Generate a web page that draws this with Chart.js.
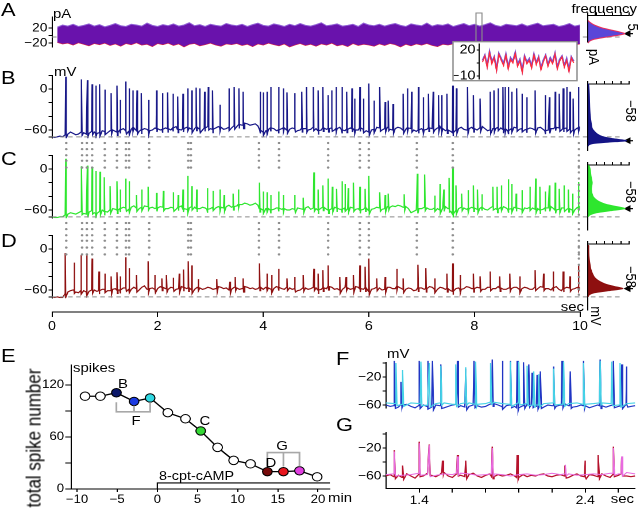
<!DOCTYPE html>
<html>
<head>
<meta charset="utf-8">
<script src="https://cdn.jsdelivr.net/npm/chart.js@4.4.1/dist/chart.umd.min.js"></script>
<style>
  html, body { margin: 0; padding: 0; background: #fff; overflow: hidden; }
  #fig { position: absolute; left: 0; top: 0; width: 557px; height: 508px;
         transform: scaleX(1.149); transform-origin: 0 0;
         font-family: "Liberation Sans", Arial, sans-serif; }
  #fig canvas, #fig svg { position: absolute; left: 0; top: 0; }
  .lbl { position: absolute; white-space: nowrap; line-height: 1; color: #000; }
</style>
</head>
<body>
<div id="fig"></div>
<script>
/* Spike traces A-D, histograms, spike count over time (E) and overlays (F, G) */

const W = 557, H = 508, S = 640 / W;   // figure is drawn narrow and stretched
const fig = document.getElementById('fig');

// ---------- data ----------
const tStep = 0.1;                // current envelope sample spacing, s
const vStep = 0.05;               // voltage baseline sample spacing, s
const aT0 = 0.1;
const aUpper = [22, 28, 25, 30, 24, 27, 31, 25, 29, 23, 27, 32, 26, 24, 30, 28, 25, 33, 27, 24,
  29, 26, 31, 25, 28, 34, 26, 29, 24, 30, 27, 25, 32, 28, 26, 30, 24, 29, 33, 27,
  25, 31, 28, 24, 30, 26, 32, 27, 25, 29, 34, 26, 28, 31, 25, 27, 30, 24, 33, 28,
  26, 30, 25, 29, 32, 27, 24, 31, 28, 26, 33, 25, 29, 27, 31, 24, 28, 32, 26, 30,
  25, 29, 34, 27, 24, 30, 28, 26, 31, 25, 29, 33, 26, 28, 30, 24, 27, 32, 25, 28];
const aLower = [-18, -22, -20, -25, -19, -23, -27, -21, -24, -20, -26, -22, -28, -21, -24, -19, -25, -23, -29, -21,
  -24, -20, -26, -22, -30, -23, -21, -27, -24, -20, -25, -28, -22, -24, -21, -26, -23, -29, -22, -25,
  -20, -24, -27, -22, -30, -25, -21, -26, -23, -28, -22, -25, -20, -27, -24, -29, -21, -26, -23, -25,
  -28, -22, -26, -21, -24, -30, -23, -27, -22, -25, -21, -26, -29, -23, -25, -22, -28, -24, -20, -26,
  -23, -27, -22, -25, -30, -24, -21, -26, -28, -23, -25, -22, -27, -24, -21, -26, -29, -23, -25, -22];
const insetPurple = [8, 14, 2, 18, 6, 12, -2, 16, 10, 4, 15, 0, 11, 7, 17, 3, 9, -4, 13, 6,
  10, 1, 15, 5, 12, -1, 8, 14, 3, 11, 6, 16, 0, 9, 13, 2, 10, -3, 12, 7];
const insetRed = [6, 13, 0, 17, 4, 11, -4, 15, 8, 2, 14, -2, 9, 5, 16, 1, 7, -6, 12, 4,
  8, -1, 14, 3, 11, -3, 6, 13, 1, 9, 4, 15, -2, 7, 12, 0, 8, -5, 11, 5];

const bBase = [-70, -71, -70, -69, -70, -67, -66, -63, -65, -67, -66, -63, -64, -66, -65, -62, -63, -65, -64, -61,
  -62, -64, -61, -60, -62, -63, -60, -58, -61, -62, -59, -57, -61, -62, -60, -58, -59, -61, -60, -57,
  -58, -60, -59, -57, -58, -60, -57, -55, -59, -60, -58, -56, -57, -59, -58, -56, -59, -60, -57, -55,
  -58, -59, -57, -55, -56, -59, -58, -56, -57, -54, -55, -52, -53, -50, -51, -53, -52, -51, -54, -60,
  -63, -61, -59, -57, -58, -61, -60, -58, -57, -60, -59, -57, -58, -61, -60, -58, -58, -60, -59, -56,
  -58, -61, -60, -57, -59, -58, -57, -60, -58, -56, -60, -61, -59, -57, -58, -60, -60, -57, -59, -61,
  -63, -60, -59, -56, -57, -60, -58, -56, -59, -60, -58, -56, -57, -60, -59, -57, -58, -60, -62, -60,
  -58, -60, -59, -57, -58, -60, -57, -55, -58, -61, -60, -62, -64, -60, -58, -56, -59, -60, -58, -56,
  -58, -60, -57, -55, -58, -61, -60, -58, -58, -56, -57, -59, -59, -61, -58, -56, -57, -59, -58, -60,
  -59, -57, -58, -60, -57, -56, -59, -61, -60, -58, -58, -56, -57, -60, -58, -57, -59, -61, -60, -57, -55];
const cBase = [-70, -71, -71, -70, -70, -67, -66, -64, -65, -66, -64, -62, -65, -66, -63, -61, -64, -65, -62, -60,
  -62, -63, -60, -58, -59, -60, -58, -56, -57, -59, -56, -54, -57, -58, -56, -54, -55, -57, -56, -58,
  -57, -55, -56, -58, -58, -56, -57, -59, -56, -54, -58, -59, -57, -55, -56, -58, -58, -56, -57, -59,
  -58, -56, -57, -55, -56, -57, -55, -53, -56, -55, -54, -52, -52, -50, -51, -53, -52, -50, -53, -58,
  -60, -58, -58, -60, -59, -57, -57, -59, -58, -60, -60, -58, -59, -57, -58, -59, -57, -55, -59, -57,
  -58, -60, -57, -56, -59, -60, -58, -56, -57, -59, -59, -57, -58, -56, -57, -59, -58, -60, -59, -57,
  -61, -59, -58, -56, -57, -59, -58, -55, -56, -54, -55, -53, -54, -56, -55, -58, -64, -62, -60, -58,
  -58, -56, -57, -59, -59, -57, -58, -60, -57, -55, -58, -62, -66, -61, -58, -56, -57, -59, -58, -56,
  -57, -59, -58, -56, -59, -60, -57, -55, -58, -59, -56, -55, -57, -59, -58, -56, -57, -58, -59, -57,
  -58, -56, -57, -59, -58, -60, -59, -57, -57, -55, -58, -60, -59, -57, -57, -59, -58, -60, -60, -56, -54];
const dBase = [-70, -71, -70, -71, -71, -66, -63, -61, -60, -63, -64, -61, -61, -63, -62, -60, -60, -62, -61, -59,
  -59, -61, -61, -59, -58, -60, -60, -57, -57, -59, -59, -56, -58, -60, -56, -54, -59, -58, -57, -59,
  -58, -55, -56, -58, -59, -56, -57, -59, -58, -55, -56, -58, -57, -60, -59, -56, -57, -59, -58, -56,
  -57, -59, -58, -55, -56, -58, -57, -60, -59, -56, -57, -59, -58, -55, -56, -58, -57, -59, -58, -56,
  -59, -56, -57, -59, -58, -55, -56, -58, -59, -56, -57, -59, -58, -61, -60, -57, -57, -59, -58, -56,
  -57, -60, -59, -57, -58, -55, -56, -59, -58, -60, -59, -56, -57, -59, -58, -55, -56, -58, -59, -57,
  -62, -59, -58, -56, -57, -60, -59, -56, -56, -58, -58, -55, -57, -59, -59, -57, -58, -61, -60, -57,
  -57, -59, -58, -55, -56, -59, -59, -56, -57, -59, -58, -61, -62, -58, -57, -59, -58, -55, -56, -58,
  -58, -56, -57, -59, -59, -56, -56, -58, -58, -55, -57, -59, -59, -57, -58, -56, -56, -59, -58, -56,
  -57, -59, -59, -56, -58, -55, -56, -58, -58, -60, -57, -55, -59, -61, -58, -56, -57, -59, -58, -56, -56];

const bSpikeT = [0.26, 0.56, 0.67, 0.76, 0.83, 0.90, 1.00, 1.12, 1.23, 1.29, 1.40, 1.46, 1.53, 1.61, 1.69, 1.83, 1.98, 2.09, 2.19, 2.29,
  2.38, 2.48, 2.57, 2.65, 2.73, 2.80, 2.89, 2.96, 3.04, 3.18, 3.35, 3.45, 3.54, 3.62, 3.94, 4.00, 4.07, 4.14, 4.29, 4.38,
  4.45, 4.60, 4.73, 4.82, 4.95, 5.04, 5.13, 5.23, 5.30, 5.38, 5.49, 5.58, 5.68, 5.73, 5.83, 5.90, 6.00, 6.10, 6.21, 6.31,
  6.37, 6.46, 6.65, 6.73, 6.81, 6.94, 7.03, 7.13, 7.22, 7.32, 7.38, 7.48, 7.59, 7.66, 7.87, 7.98, 8.11, 8.30, 8.37, 8.45,
  8.54, 8.58, 8.64, 8.71, 8.80, 8.90, 8.99, 9.15, 9.34, 9.42, 9.53, 9.61, 9.68, 9.75, 9.81, 9.87, 9.97];
const bSpikeV = [18, 14, 13, 7, 5, 7, -1, -6, 5, -16, 11, 1, -2, -2, -6, -16, -2, -6, -5, -7,
  -11, -7, 1, -2, 2, 1, -4, 3, -2, -23, 1, 3, 1, -4, -4, -5, -4, 3, 3, 1,
  -5, -6, -4, 3, 3, -2, 3, -9, -2, 3, 3, -4, 1, -14, 3, -14, 8, -17, 3, -19,
  -17, -22, -7, 1, -4, 3, -12, -7, -4, -9, -9, -7, 5, 1, 3, -9, -14, -4, -2, 1,
  3, 3, 3, -4, 1, -7, -12, -2, -9, -12, -4, -7, 1, 3, -4, -14, 3];
const cSpikeT = [0.26, 0.56, 0.67, 0.76, 0.83, 0.91, 0.99, 1.10, 1.23, 1.29, 1.40, 1.46, 1.60, 1.70, 1.82, 1.98, 2.11, 2.30, 2.39, 2.48,
  2.57, 2.65, 2.74, 2.94, 3.05, 3.18, 3.26, 3.43, 3.53, 3.93, 4.00, 4.07, 4.14, 4.29, 4.38, 4.60, 4.76, 4.96, 5.04, 5.13,
  5.23, 5.31, 5.39, 5.49, 5.55, 5.61, 5.71, 5.83, 5.93, 6.00, 6.21, 6.31, 6.37, 6.67, 6.92, 7.06, 7.25, 7.35, 7.42, 7.52,
  7.59, 7.65, 7.76, 7.88, 7.98, 8.06, 8.14, 8.35, 8.43, 8.51, 8.64, 8.71, 8.79, 8.90, 9.05, 9.16, 9.24, 9.34, 9.42, 9.53,
  9.61, 9.70, 9.78, 9.86, 9.97];
const cSpikeV = [15, 4, 5, 3, -3, -4, -12, -25, -18, -30, -14, -18, -38, -30, -26, -35, -32, -34, -38, -30,
  -10, -25, -30, -28, -32, -30, -38, -36, -30, -20, -33, -34, -38, -33, -38, -38, -42, -5, -30, -24,
  -14, -26, -29, -18, -22, -28, -20, -26, -29, -10, -34, -38, -36, -37, -7, -8, -39, -22, -30, -13,
  2, -24, -36, -31, -24, -30, -37, -26, -26, -24, -15, -22, -36, -31, -26, -14, -26, -33, -24, -20,
  -29, -24, -30, -36, -19];
const dSpikeT = [0.25, 0.42, 0.55, 0.66, 0.76, 0.89, 1.00, 1.12, 1.23, 1.29, 1.40, 1.46, 1.60, 1.82, 1.95, 2.08, 2.17, 2.30, 2.41, 2.49,
  2.58, 2.65, 2.77, 3.12, 3.37, 3.47, 3.62, 3.93, 4.07, 4.16, 4.29, 4.45, 4.60, 4.76, 4.96, 5.04, 5.13, 5.23, 5.45, 5.57,
  5.71, 5.83, 5.93, 6.00, 6.15, 6.31, 6.53, 6.65, 6.93, 7.08, 7.25, 7.48, 7.59, 7.73, 7.98, 8.11, 8.30, 8.48, 8.67, 8.86,
  9.15, 9.31, 9.49, 9.68, 9.81, 9.97];
const dSpikeV = [-6, -20, -9, -9, -14, -33, -36, -40, -34, -40, -12, -28, -38, -18, -38, -43, -38, -42, -36, -30,
  -18, -24, -44, -44, -48, -41, -43, -21, -36, -38, -29, -43, -41, -38, -29, -36, -31, -24, -41, -41,
  -38, -24, -26, -14, -43, -41, -29, -43, -23, -28, -43, -36, -21, -38, -36, -40, -33, -40, -36, -40,
  -31, -36, -33, -33, -40, -24];

// spikes shared by B, C and D (grey dotted columns); rows in mV of the panel above the gap
const syncT = [0.27, 0.57, 0.66, 0.76, 1.00, 1.23, 1.40, 1.46, 1.84, 2.58, 2.63, 3.92, 4.30, 5.23, 5.83, 6.00, 6.91, 7.59, 9.98];
const dotRowsBC = [-79, -88, -97, -105, -115];
const dotRowsCD = [-79, -88, -97, -105, -115, -125];
const lastColRows = [4, -5, -14, -23, -32, -41, -50, -59, -67];

const timeTicks = [0, 2, 4, 6, 8, 10];
const timeLabels = ['0', '2', '4', '6', '8', '10'];
const aTicks = [20, 0, -20];
const aLabels = ['20', '', '\u221220'];
const panelTicks = [20, 0, -20, -40, -60, -70];
const panelLabels = ['', '0', '', '', '\u221260', ''];
const insetTicks = [20, 5, -10];
const insetLabels = ['20', '', '\u221210'];

// histograms (membrane value vs relative frequency)
const histTicks = [0, 0.2, 0.4, 0.6, 0.8, 1];
const hAv = [40, 35, 30, 25, 20, 15, 10, 5, 0, -5, -10, -15, -20];
const hAf = [0, 0.05, 0.12, 0.22, 0.35, 0.55, 0.75, 0.9, 0.7, 0.4, 0.15, 0.04, 0];
const hBv = [25, 20, 10, 0, -10, -20, -30, -40, -44, -48, -52, -55, -58, -60, -62, -64, -66];
const hBf = [0.01, 0.02, 0.03, 0.035, 0.04, 0.05, 0.07, 0.1, 0.15, 0.22, 0.35, 0.6, 0.94, 0.5, 0.12, 0.02, 0];
const hCv = [5, 0, -10, -20, -30, -40, -44, -48, -52, -55, -58, -61, -64, -67, -70];
const hCf = [0.02, 0.05, 0.07, 0.1, 0.08, 0.12, 0.18, 0.28, 0.45, 0.7, 0.9, 0.55, 0.2, 0.05, 0];
const hDv = [5, 0, -10, -20, -30, -40, -44, -48, -52, -55, -58, -61, -64, -67, -70];
const hDf = [0.015, 0.015, 0.02, 0.04, 0.07, 0.14, 0.2, 0.3, 0.45, 0.65, 0.85, 0.5, 0.15, 0.03, 0];
const histPeaks = [5, -58, -58, -58];

// E: total spike number per 2-min block
const eTime = [-9, -7.1, -5.1, -2.9, -0.9, 1.3, 3.5, 5.4, 7.5, 9.5, 11.6, 13.7, 15.7, 17.7, 19.9];
const eSpikes = [107, 107, 111, 101, 105, 88, 81, 67, 48, 33, 29, 20, 20, 21, 14];
const eColors = ['#fff', '#fff', '#0b186a', '#1b3ae0', '#2fd8e2', '#fff', '#fff', '#35d835', '#fff', '#fff', '#fff',
  '#760b0b', '#e8161e', '#e03ee0', '#fff'];
const eXTicks = [-10, -5, 0, 5, 10, 15, 20];
const eXLabels = ['\u221210', '\u22125', '0', '5', '10', '15', '20'];
const eYTicks = [0, 30, 60, 90, 120];
const eYLabels = ['0', '', '60', '', '120'];
const drugT = [0, 0, 21.5];
const drugY = [0, 7, 7];
const fIdx = [2, 3, 4], gIdx = [11, 12, 13];

// F, G: 1.2-2.7 s overlays
const fgT0 = 1.2, fgStep = 0.025, fgStep2 = 0.05;
const fBlueBase = [-60, -62, -61, -63, -60, -59, -62, -64, -61, -60, -62, -63, -60, -61, -64, -62, -60, -59, -61, -63,
  -62, -60, -61, -63, -62, -59, -58, -60, -62, -61, -60, -62, -64, -61, -59, -60, -62, -61, -63, -60,
  -61, -62, -60, -58, -61, -63, -62, -60, -61, -64, -62, -60, -61, -63, -61, -60, -62, -61, -59, -62, -61];
const fBlueT = [1.25, 1.29, 1.40, 1.45, 1.48, 1.53, 1.63, 1.68, 1.73, 1.84, 1.90, 1.95, 1.99, 2.03, 2.06, 2.08, 2.11, 2.13, 2.21, 2.26,
  2.31, 2.39, 2.49, 2.57, 2.62, 2.65];
const fBlueV = [3, -27, 3, 3, 3, -2, 3, -8, 3, 5, 3, 3, 3, 1, -2, -14, -17, -12, -5, 3, -12, 3, 5, 3, -2, -5];
const fCyanBase = [-57, -58, -59, -57, -58, -60, -58, -57, -59, -58, -57, -59, -58, -56, -58, -59, -57, -58, -60, -58,
  -57, -59, -58, -57, -59, -58, -57, -58, -60, -58, -57];
const fCyanT = [1.26, 1.30, 1.41, 1.46, 1.53, 1.62, 1.68, 1.74, 1.83, 1.95, 2.00, 2.05, 2.09, 2.12, 2.21, 2.27, 2.39, 2.49, 2.56, 2.61];
const fCyanV = [0, -10, 2, 0, -4, -2, -6, 2, 0, 2, 2, -4, -12, -16, -8, 2, 0, 3, 2, 0];
const gRedBase = [-60, -58, -61, -59, -62, -57, -60, -63, -58, -60, -56, -59, -61, -58, -55, -60, -62, -57, -59, -61,
  -58, -56, -60, -62, -59, -57, -61, -58, -60, -59, -57, -60, -62, -58, -61, -59, -60, -58, -57, -60,
  -61, -59, -58, -60, -62, -59, -57, -60, -61, -58, -59, -61, -57, -60, -62, -58, -59, -57, -60, -61, -60];
const gRedT = [1.25, 1.30, 1.40, 1.46, 1.54, 1.63, 1.68, 1.84, 1.99, 2.28, 2.40, 2.48, 2.57, 2.62];
const gRedV = [-23, -45, -11, -15, -38, -30, -38, -18, -30, -45, -38, -30, -18, -34];
const gMagBase = [-58, -57, -59, -58, -56, -58, -59, -57, -58, -56, -57, -59, -58, -57, -58, -60, -58, -57, -59, -58,
  -56, -58, -57, -59, -58, -57, -58, -56, -57, -55, -57];
const gMagT = [1.25, 1.40, 1.46, 1.63, 1.84, 2.28, 2.57, 2.62];
const gMagV = [-25, -13, -16, -32, -20, -44, -20, -32];
const fgYTicks = [0, -20, -40, -60];
const fgYLabels = ['', '\u221220', '', '\u221260'];
const gXTicks = [1.4, 1.6, 1.8, 2.0, 2.2, 2.4, 2.6];
const gXLabels = ['1.4', '', '', '', '', '2.4', ''];

// ---------- helpers ----------
Chart.defaults.font.family = '"Liberation Sans", Arial, sans-serif';
Chart.defaults.color = '#000';

const K = 41 / 60;                 // px per mV in panels B-D
const panelGap = 80 / K;           // mV between the zero lines of B, C, D

// chart area given in reference pixels (x is divided by the stretch)
const pad = (l, t, r, b, yw = 0, xh = 0, xt = 0) =>
  ({ left: l / S - yw, top: t - xt, right: W - r / S, bottom: H - b - xh });

function chart(padding, scales, datasets) {
  const c = document.createElement('canvas');
  c.width = W; c.height = H;
  fig.appendChild(c);
  return new Chart(c, {
    type: 'line',
    data: { datasets },
    options: {
      responsive: false, animation: false, devicePixelRatio: 2, events: [],
      layout: { padding },
      plugins: { legend: { display: false }, tooltip: { enabled: false } },
      scales
    }
  });
}

function yScale(min, max, ticks, labels, width, size, tl) {
  return {
    type: 'linear', min, max, position: 'left',
    afterBuildTicks: s => { s.ticks = ticks.map(v => ({ value: v })); },
    afterFit: s => { s.width = width; },
    border: { color: '#000', width: 1 },
    grid: { drawOnChartArea: false, color: '#000', tickColor: '#000', tickLength: tl || 3 },
    ticks: { autoSkip: false, padding: 1, color: '#000', font: { size: size || 12 }, callback: (v, i) => labels[i] }
  };
}
function xScale(min, max, ticks, labels, height, size, tl, tp) {
  return {
    type: 'linear', min, max, position: 'bottom',
    afterBuildTicks: s => { s.ticks = ticks.map(v => ({ value: v })); },
    afterFit: s => { s.height = height; },
    border: { color: '#000', width: 1 },
    grid: { drawOnChartArea: false, color: '#000', tickColor: '#000', tickLength: tl },
    ticks: { autoSkip: false, maxRotation: 0, padding: tp, color: '#000', font: { size }, callback: (v, i) => labels[i] }
  };
}
const xHidden = (min, max) => ({ type: 'linear', min, max, display: false });
const yHidden = (min, max) => ({ type: 'linear', min, max, display: false });

const line = (data, color, width, extra) =>
  Object.assign({ data, borderColor: color, borderWidth: width, pointRadius: 0, fill: false, tension: 0 }, extra || {});
const series = (t0, step, vals) => vals.map((v, i) => ({ x: t0 + i * step, y: v }));

// baseline samples plus one narrow up/down stroke per spike
function trace(t0, step, base, spT, spV, w, ahp) {
  const pts = series(t0, step, base);
  spT.forEach((t, i) => {
    const foot = base[Math.max(0, Math.min(base.length - 1, Math.round((t - t0) / step)))];
    pts.push({ x: t - w, y: foot }, { x: t, y: spV[i] }, { x: t + w * 1.5, y: foot - ahp });
  });
  return pts.sort((a, b) => a.x - b.x);
}
const dots = (times, rows, shift) => times.flatMap(t => rows.map(v => ({ x: t, y: v - shift })));
const dash = (v, t1, t2) => line([{ x: t1, y: v }, { x: t2, y: v }], '#8a8a8a', 1,
  { borderDash: [4, 3], clip: false });

function text(str, x, y, size, align, rot) {
  const d = document.createElement('div');
  d.className = 'lbl';
  d.textContent = str;
  d.style.fontSize = size + 'px';
  d.style.left = (x / S) + 'px';
  d.style.top = y + 'px';
  const tx = rot ? '-50%' : align === 'right' ? '-100%' : align === 'center' ? '-50%' : '0';
  d.style.transform = `translate(${tx}, -50%)` + (rot ? ` rotate(${rot}deg)` : '');
  fig.appendChild(d);
}

// ---------- A: current trace ----------
chart(pad(52, 16.75, 580, 46.75, 40), {
  x: xHidden(0, 10),
  y: yScale(-30, 50, aTicks, aLabels, 40)
}, [
  line(series(aT0, tStep, aUpper), '#9160d6', 1, { fill: '+1', backgroundColor: '#6912ac', clip: false }),
  line(series(aT0, tStep, aLower), '#e3263d', 1.1, { clip: false }),
  dash(-4, 0, 10.8)
]);

// histograms on the right
function hist(top, bottom, min, max, v, f, color, edge, peak) {
  const poly = [{ x: 0, y: v[0] }, ...v.map((vv, i) => ({ x: f[i], y: vv })), { x: 0, y: v[v.length - 1] }];
  chart(pad(588, top, 629, bottom, 0, 0, 3), {
    x: {
      type: 'linear', position: 'top', min: 0, max: 1,
      afterBuildTicks: s => { s.ticks = histTicks.map(t => ({ value: t })); },
      afterFit: s => { s.height = 3; },
      border: { color: '#000' },
      grid: { drawOnChartArea: false, tickLength: 3, color: '#000' },
      ticks: { display: false }
    },
    y: {
      type: 'linear', min, max,
      afterFit: s => { s.width = 0; },
      border: { color: '#000' }, grid: { display: false }, ticks: { display: false }
    }
  }, [
    line(poly, edge, 1, { fill: 'shape', backgroundColor: color, tension: 0.25, clip: false }),
    line([{ x: 0.95, y: peak }, { x: 1.1, y: peak }], '#000', 1.2, { clip: false }),
    { data: [{ x: 0.98, y: peak }], showLine: false, pointStyle: 'triangle', rotation: 270, pointRadius: 3,
      pointBackgroundColor: '#000', pointBorderColor: '#000', clip: false }
  ]);
}
hist(15.25, 41.9, -17, 54, hAv, hAf, '#5a46d8', '#e8305e', histPeaks[0]);

// inset box and zoom marker
const svgNS = 'http://www.w3.org/2000/svg';
const svg = document.createElementNS(svgNS, 'svg');
svg.setAttribute('width', W); svg.setAttribute('height', H);
svg.innerHTML =
  `<rect x="${476 / S}" y="13" width="${6 / S}" height="30" fill="none" stroke="#8c8c8c" stroke-width="1"/>` +
  `<line x1="${476 / S}" y1="43" x2="${453 / S}" y2="42" stroke="#9a9a9a" stroke-width="0.8"/>` +
  `<line x1="${482 / S}" y1="43" x2="${577 / S}" y2="46" stroke="#9a9a9a" stroke-width="0.8"/>` +
  `<rect x="${453 / S}" y="41.7" width="${124 / S}" height="39" fill="#fff" stroke="#8c8c8c" stroke-width="1.3"/>`;
fig.appendChild(svg);

chart(pad(479, 44, 576, 79, 22), {
  x: xHidden(-1.5, 40),
  y: yScale(-13.5, 26.9, insetTicks, insetLabels, 22, 12.5, 2)
}, [
  line(series(0, 1, insetRed), '#ff2a3a', 1),
  line(series(0, 1, insetPurple), '#7a52d8', 1.5)
]);

// ---------- B, C, D: voltage traces ----------
const panel = (zeroY, base, spT, spV, color) => {
  chart(pad(52, zeroY - 20 * K, 580, zeroY + 72 * K, 40), {
    x: xHidden(0, 10),
    y: yScale(-72, 20, panelTicks, panelLabels, 40)
  }, [
    dash(-70, 0, 10.8),
    line(trace(0, vStep, base, spT, spV, 0.006, 5), color, 1.15)
  ]);
};
panel(89, bBase, bSpikeT, bSpikeV, '#171787');
panel(169, cBase, cSpikeT, cSpikeV, '#2ee62e');
panel(249, dBase, dSpikeT, dSpikeV, '#8e1010');

// grey dotted columns over B-D, in B's mV units
const lastT = [syncT[syncT.length - 1]];
chart(pad(52, 89 - 20 * K, 580, 320, 0), {
  x: xHidden(0, 10),
  y: yHidden((89 - 320) / K, 20)
}, [{
  data: [...dots(syncT, dotRowsBC, 0), ...dots(syncT, dotRowsCD, panelGap),
    ...dots(lastT, lastColRows, panelGap), ...dots(lastT, lastColRows, 2 * panelGap)],
  showLine: false, pointRadius: 1.15, pointBorderWidth: 0, pointBackgroundColor: '#8d8d8d'
}]);

hist(84, 150.7, -72.6, 25, hBv, hBf, '#141486', '#141486', histPeaks[1]);
hist(165, 230, -89.3, 5.9, hCv, hCf, '#2ee62e', '#2ee62e', histPeaks[2]);
hist(244, 310, -89.3, 7.3, hDv, hDf, '#8e1010', '#8e1010', histPeaks[3]);

// time axis under the traces
chart(pad(52, 300, 580, 312, 0, 20), {
  x: xScale(0, 10, timeTicks, timeLabels, 20, 12.5, 5, 2),
  y: yHidden(0, 1)
}, []);

// ---------- E ----------
const bracket = (idx, leg, bar) => [{ x: eTime[idx[0]], y: leg }, { x: eTime[idx[0]], y: bar },
  { x: eTime[idx[2]], y: bar }, { x: eTime[idx[2]], y: leg }];
const bracketMid = (idx, leg, bar) => [{ x: eTime[idx[1]], y: bar }, { x: eTime[idx[1]], y: leg }];
chart(pad(71, 365, 330, 489, 34, 16), {
  x: xScale(-10.75, 21.5, eXTicks, eXLabels, 16, 11.5, 3, 1),
  y: yScale(0, 143, eYTicks, eYLabels, 34, 11.5, 5)
}, [
  line(drugT.map((t, i) => ({ x: t, y: drugY[i] })), '#000', 1.1),
  line(bracket(fIdx, 100, 89), '#a8a8a8', 1.6),
  line(bracketMid(fIdx, 96, 89), '#a8a8a8', 1.6),
  line(bracket(gIdx, 26, 42), '#a8a8a8', 1.6),
  line(bracketMid(gIdx, 26, 42), '#a8a8a8', 1.6),
  line(eTime.map((t, i) => ({ x: t, y: eSpikes[i] })), '#000', 1.3,
    { pointRadius: 4.2, pointBackgroundColor: eColors, pointBorderColor: '#000', pointBorderWidth: 1 })
]);

// ---------- F, G ----------
chart(pad(386, 362.3, 635, 407.8, 40), {
  x: xHidden(1.2, 2.7),
  y: yScale(-64, 1, fgYTicks, fgYLabels, 40, 12)
}, [
  line(trace(fgT0, fgStep2, fCyanBase, fCyanT, fCyanV, 0.004, 3), '#45d2e6', 1.1, { clip: false }),
  line(trace(fgT0, fgStep, fBlueBase, fBlueT, fBlueV, 0.004, 4), '#2035c4', 1.15, { clip: false })
]);
chart(pad(386, 432.6, 635, 488.6, 40, 16), {
  x: xScale(1.2, 2.7, gXTicks, gXLabels, 16, 12, 4, 1),
  y: yScale(-78, 2, fgYTicks, fgYLabels, 40, 12)
}, [
  line(trace(fgT0, fgStep2, gMagBase, gMagT, gMagV, 0.004, 3), '#e86ae0', 1, { clip: false }),
  line(trace(fgT0, fgStep, gRedBase, gRedT, gRedV, 0.004, 3), '#b5122c', 1.2, { clip: false })
]);

// ---------- text ----------
[['A', 1, 9], ['B', 1, 77], ['C', 1, 158], ['D', 1, 240], ['E', 1, 355], ['F', 336, 358], ['G', 336, 424]]
  .forEach(([s, x, y]) => text(s, x, y, 19));
text('pA', 53, 13, 13);
text('mV', 54, 71, 13);
text('frequency', 637, 8, 13, 'right');
text('sec', 584, 306, 13, 'right');
text('spikes', 73, 367, 13);
text('8-cpt-cAMP', 159, 476, 12.5);
text('min', 328, 497, 13);
text('mV', 387, 353, 13);
text('sec', 634, 498, 13, 'right');
text('B', 123, 383, 13, 'center');
text('F', 136, 420, 13, 'center');
text('C', 205, 420, 13, 'center');
text('G', 282, 445, 13, 'center');
text('D', 271, 462, 13, 'center');
text('5', 633, 27, 13, null, 90);
text('pA', 594, 57, 13, null, 90);
text('\u221258', 631, 111, 13, null, 90);
text('\u221258', 631, 192, 13, null, 90);
text('\u221258', 631, 277, 13, null, 90);
text('mV', 596, 316, 13, null, 90);
text('total spike number', 34, 438, 17, null, -90);
</script>
</body>
</html>
